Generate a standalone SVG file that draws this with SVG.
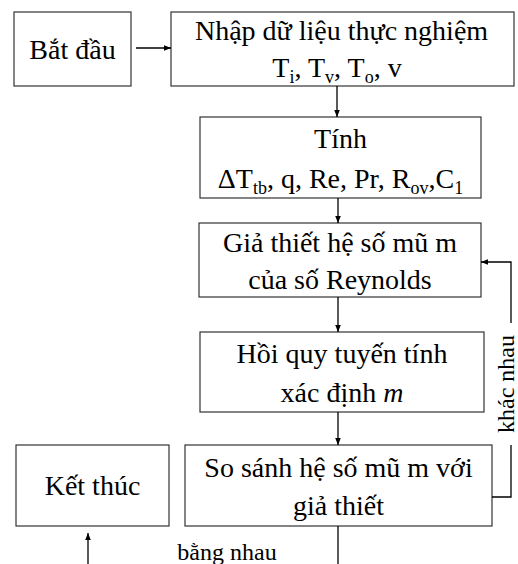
<svg xmlns="http://www.w3.org/2000/svg" width="518" height="564" viewBox="0 0 518 564">
<defs>
<marker id="ah" viewBox="0 0 10 10" refX="10" refY="5" markerWidth="7" markerHeight="7" markerUnits="userSpaceOnUse" orient="auto">
<path d="M0,1 L10,5 L0,9 Z" fill="#000"/>
</marker>
<style>
.box{fill:#fff;stroke:#333;stroke-width:1.2}
.t{font-family:'Liberation Serif','Times New Roman',serif;font-size:28px;fill:#000;text-anchor:middle}
.s{font-size:18px}
.lbl{font-family:'Liberation Serif','Times New Roman',serif;font-size:24px;fill:#000;text-anchor:middle}
.c{fill:none;stroke:#000;stroke-width:1.3}
</style>
</defs>
<rect width="518" height="564" fill="#fff"/>
<g id="start" font-family="Liberation Serif, serif">
<rect class="box" x="14" y="12" width="117" height="74"/>
<text class="t" x="72.5" y="59">Bắt đầu</text>
</g>
<g id="input">
<rect class="box" x="171" y="12" width="343" height="74"/>
<text class="t" x="341.5" y="40">Nhập dữ liệu thực nghiệm</text>
<text class="t" x="337" y="77">T<tspan class="s" dy="6">i</tspan><tspan dy="-6">, T</tspan><tspan class="s" dy="6">v</tspan><tspan dy="-6">, T</tspan><tspan class="s" dy="6">o</tspan><tspan dy="-6">, v</tspan></text>
</g>
<g id="compute">
<rect class="box" x="200" y="117" width="281" height="81"/>
<text class="t" x="340.5" y="148">Tính</text>
<text class="t" x="340.5" y="188">ΔT<tspan class="s" dy="6">tb</tspan><tspan dy="-6">, q, Re, Pr, R</tspan><tspan class="s" dy="6">ov</tspan><tspan dy="-6">,C</tspan><tspan class="s" dy="6">1</tspan></text>
</g>
<g id="assume">
<rect class="box" x="199" y="223" width="282" height="74"/>
<text class="t" x="340" y="252">Giả thiết hệ số mũ m</text>
<text class="t" x="340" y="289">của số Reynolds</text>
</g>
<g id="regress">
<rect class="box" x="200" y="332" width="284" height="80"/>
<text class="t" x="342" y="363">Hồi quy tuyến tính</text>
<text class="t" x="342" y="402">xác định <tspan font-style="italic">m</tspan></text>
</g>
<g id="compare">
<rect class="box" x="185" y="445" width="307" height="81"/>
<text class="t" x="338.5" y="477">So sánh hệ số mũ m với</text>
<text class="t" x="338.5" y="515">giả thiết</text>
</g>
<g id="end">
<rect class="box" x="16" y="445" width="153" height="81"/>
<text class="t" x="92.5" y="495">Kết thúc</text>
</g>
<g id="connectors">
<line class="c" x1="136" y1="48" x2="171" y2="48" marker-end="url(#ah)"/>
<line class="c" x1="337" y1="86" x2="337" y2="117" marker-end="url(#ah)"/>
<line class="c" x1="338" y1="198" x2="338" y2="223" marker-end="url(#ah)"/>
<line class="c" x1="338" y1="297" x2="338" y2="332" marker-end="url(#ah)"/>
<line class="c" x1="338" y1="412" x2="338" y2="445" marker-end="url(#ah)"/>
<polyline class="c" points="492,497 511,497 511,445"/>
<polyline class="c" points="511,323 511,262 481,262" marker-end="url(#ah)"/>
<line class="c" x1="338" y1="526" x2="338" y2="564"/>
<line class="c" x1="88" y1="564" x2="88" y2="533" marker-end="url(#ah)"/>
<text class="lbl" x="227" y="560">bằng nhau</text>
<text class="lbl" transform="translate(514,384) rotate(-90)">khác nhau</text>
</g>
</svg>
